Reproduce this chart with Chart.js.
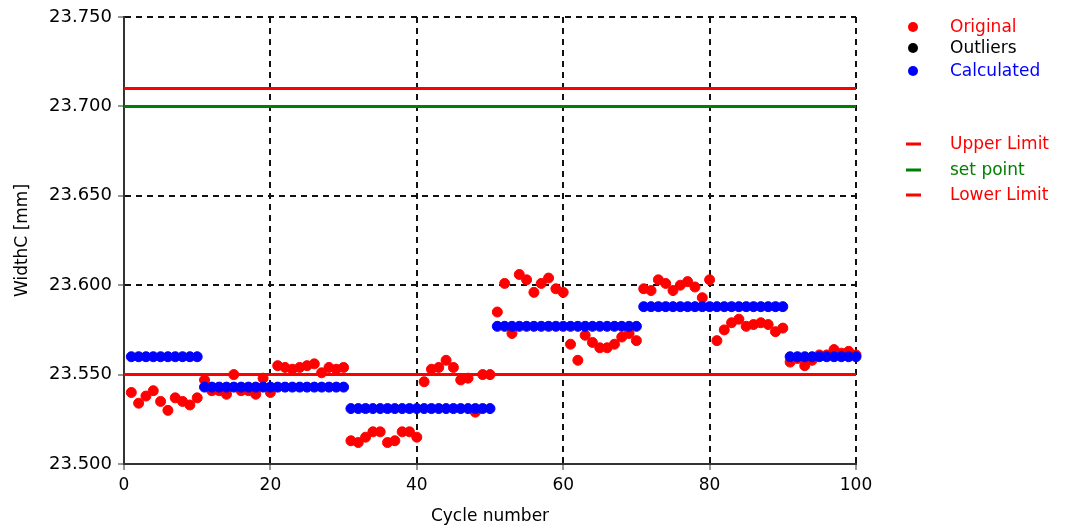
<!DOCTYPE html>
<html>
<head>
<meta charset="utf-8">
<script src="https://cdn.jsdelivr.net/npm/chart.js@4/dist/chart.umd.min.js"></script>
<style>
  html, body { margin: 0; padding: 0; background: #fff; }
  #wrap { width: 1069px; height: 532px; }
</style>
</head>
<body>
<div id="wrap"><canvas id="myChart" width="1069" height="532"></canvas></div>
<script>
// cycle numbers 1..100
const cycles = [
  1, 2, 3, 4, 5, 6, 7, 8, 9, 10,
  11, 12, 13, 14, 15, 16, 17, 18, 19, 20,
  21, 22, 23, 24, 25, 26, 27, 28, 29, 30,
  31, 32, 33, 34, 35, 36, 37, 38, 39, 40,
  41, 42, 43, 44, 45, 46, 47, 48, 49, 50,
  51, 52, 53, 54, 55, 56, 57, 58, 59, 60,
  61, 62, 63, 64, 65, 66, 67, 68, 69, 70,
  71, 72, 73, 74, 75, 76, 77, 78, 79, 80,
  81, 82, 83, 84, 85, 86, 87, 88, 89, 90,
  91, 92, 93, 94, 95, 96, 97, 98, 99, 100
];

const original = [
  23.540, 23.534, 23.538, 23.541, 23.535, 23.530, 23.537, 23.535, 23.533, 23.537,
  23.547, 23.541, 23.541, 23.539, 23.550, 23.541, 23.541, 23.539, 23.548, 23.540,
  23.555, 23.554, 23.553, 23.554, 23.555, 23.556, 23.551, 23.554, 23.553, 23.554,
  23.513, 23.512, 23.515, 23.518, 23.518, 23.512, 23.513, 23.518, 23.518, 23.515,
  23.546, 23.553, 23.554, 23.558, 23.554, 23.547, 23.548, 23.529, 23.550, 23.550,
  23.585, 23.601, 23.573, 23.606, 23.603, 23.596, 23.601, 23.604, 23.598, 23.596,
  23.567, 23.558, 23.572, 23.568, 23.565, 23.565, 23.567, 23.571, 23.573, 23.569,
  23.598, 23.597, 23.603, 23.601, 23.597, 23.600, 23.602, 23.599, 23.593, 23.603,
  23.569, 23.575, 23.579, 23.581, 23.577, 23.578, 23.579, 23.578, 23.574, 23.576,
  23.557, 23.559, 23.555, 23.558, 23.561, 23.561, 23.564, 23.562, 23.563, 23.561
];

const outliers = [];

const calculated = [
  23.560, 23.560, 23.560, 23.560, 23.560, 23.560, 23.560, 23.560, 23.560, 23.560,
  23.543, 23.543, 23.543, 23.543, 23.543, 23.543, 23.543, 23.543, 23.543, 23.543,
  23.543, 23.543, 23.543, 23.543, 23.543, 23.543, 23.543, 23.543, 23.543, 23.543,
  23.531, 23.531, 23.531, 23.531, 23.531, 23.531, 23.531, 23.531, 23.531, 23.531,
  23.531, 23.531, 23.531, 23.531, 23.531, 23.531, 23.531, 23.531, 23.531, 23.531,
  23.577, 23.577, 23.577, 23.577, 23.577, 23.577, 23.577, 23.577, 23.577, 23.577,
  23.577, 23.577, 23.577, 23.577, 23.577, 23.577, 23.577, 23.577, 23.577, 23.577,
  23.588, 23.588, 23.588, 23.588, 23.588, 23.588, 23.588, 23.588, 23.588, 23.588,
  23.588, 23.588, 23.588, 23.588, 23.588, 23.588, 23.588, 23.588, 23.588, 23.588,
  23.560, 23.560, 23.560, 23.560, 23.560, 23.560, 23.560, 23.560, 23.560, 23.560
];

const upperLimit = 23.710;
const setPoint = 23.700;
const lowerLimit = 23.550;
const xRange = [0, 100];

const FONT = 'DejaVu Sans';

const toPoints = vals => vals.map((v, i) => ({ x: cycles[i], y: v }));
const hLine = v => xRange.map(x => ({ x: x, y: v }));

const pointSet = (label, vals, color, order) => ({
    type: 'scatter',
    label: label,
    data: toPoints(vals),
    backgroundColor: color,
    borderColor: color,
    pointRadius: 5,
    pointBorderWidth: 1,
    clip: false,
    order: order,
    legendMarker: 'dot'
});

const lineSet = (label, value, color, order) => ({
    type: 'line',
    label: label,
    data: hLine(value),
    borderColor: color,
    backgroundColor: color,
    borderWidth: 3,
    pointRadius: 0,
    order: order,
    legendMarker: 'dash'
});

// legend drawn by hand: two groups with a gap between them
const legendRows = [27, 48, 71, 144, 170, 195];
const sideLegend = {
    id: 'sideLegend',
    afterDraw(chart) {
        const ctx = chart.ctx;
        ctx.save();
        ctx.font = '17px "' + FONT + '"';
        ctx.textBaseline = 'middle';
        chart.data.datasets.forEach((ds, i) => {
            const y = legendRows[i];
            ctx.fillStyle = ds.borderColor;
            if (ds.legendMarker === 'dot') {
                ctx.beginPath();
                ctx.arc(913, y, 5, 0, Math.PI * 2);
                ctx.fill();
            } else {
                ctx.fillRect(906, y - 1.5, 15, 3);
            }
            ctx.fillText(ds.label, 950, y + 1);
        });
        ctx.restore();
    }
};

const gridOpts = { color: '#111', lineWidth: 2, tickLength: 6, tickColor: '#333', tickWidth: 1 };
const borderOpts = { color: '#333', width: 2, dash: [6, 5] };

const ctx = document.getElementById('myChart').getContext('2d');
new Chart(ctx, {
    data: {
        datasets: [
            pointSet('Original', original, '#ff0000', 2),
            pointSet('Outliers', outliers, '#000000', 1),
            pointSet('Calculated', calculated, '#0000ff', 0),
            lineSet('Upper Limit', upperLimit, '#ff0000', 3),
            lineSet('set point', setPoint, '#008000', 3),
            lineSet('Lower Limit', lowerLimit, '#ff0000', 3)
        ]
    },
    options: {
        responsive: false,
        animation: false,
        layout: {
            padding: { top: 17, right: 213, left: 0, bottom: 0 }
        },
        plugins: {
            legend: { display: false },
            tooltip: { enabled: false }
        },
        scales: {
            x: {
                type: 'linear',
                min: 0,
                max: 100,
                ticks: {
                    stepSize: 20,
                    padding: 5,
                    color: '#000',
                    font: { family: FONT, size: 17 }
                },
                grid: gridOpts,
                border: borderOpts,
                title: {
                    display: true,
                    text: 'Cycle number',
                    color: '#000',
                    font: { family: FONT, size: 17 },
                    padding: { top: 0, bottom: 5 }
                },
                afterFit: scale => { scale.height = 68; }
            },
            y: {
                min: 23.5,
                max: 23.75,
                ticks: {
                    stepSize: 0.05,
                    padding: 6,
                    color: '#000',
                    font: { family: FONT, size: 18 },
                    callback: v => Number(v).toFixed(3)
                },
                grid: gridOpts,
                border: borderOpts,
                title: {
                    display: true,
                    text: 'WidthC [mm]',
                    color: '#000',
                    font: { family: FONT, size: 17 },
                    padding: { top: 12, bottom: 0 }
                },
                afterFit: scale => { scale.width = 124; }
            }
        }
    },
    plugins: [sideLegend]
});
</script>
</body>
</html>
